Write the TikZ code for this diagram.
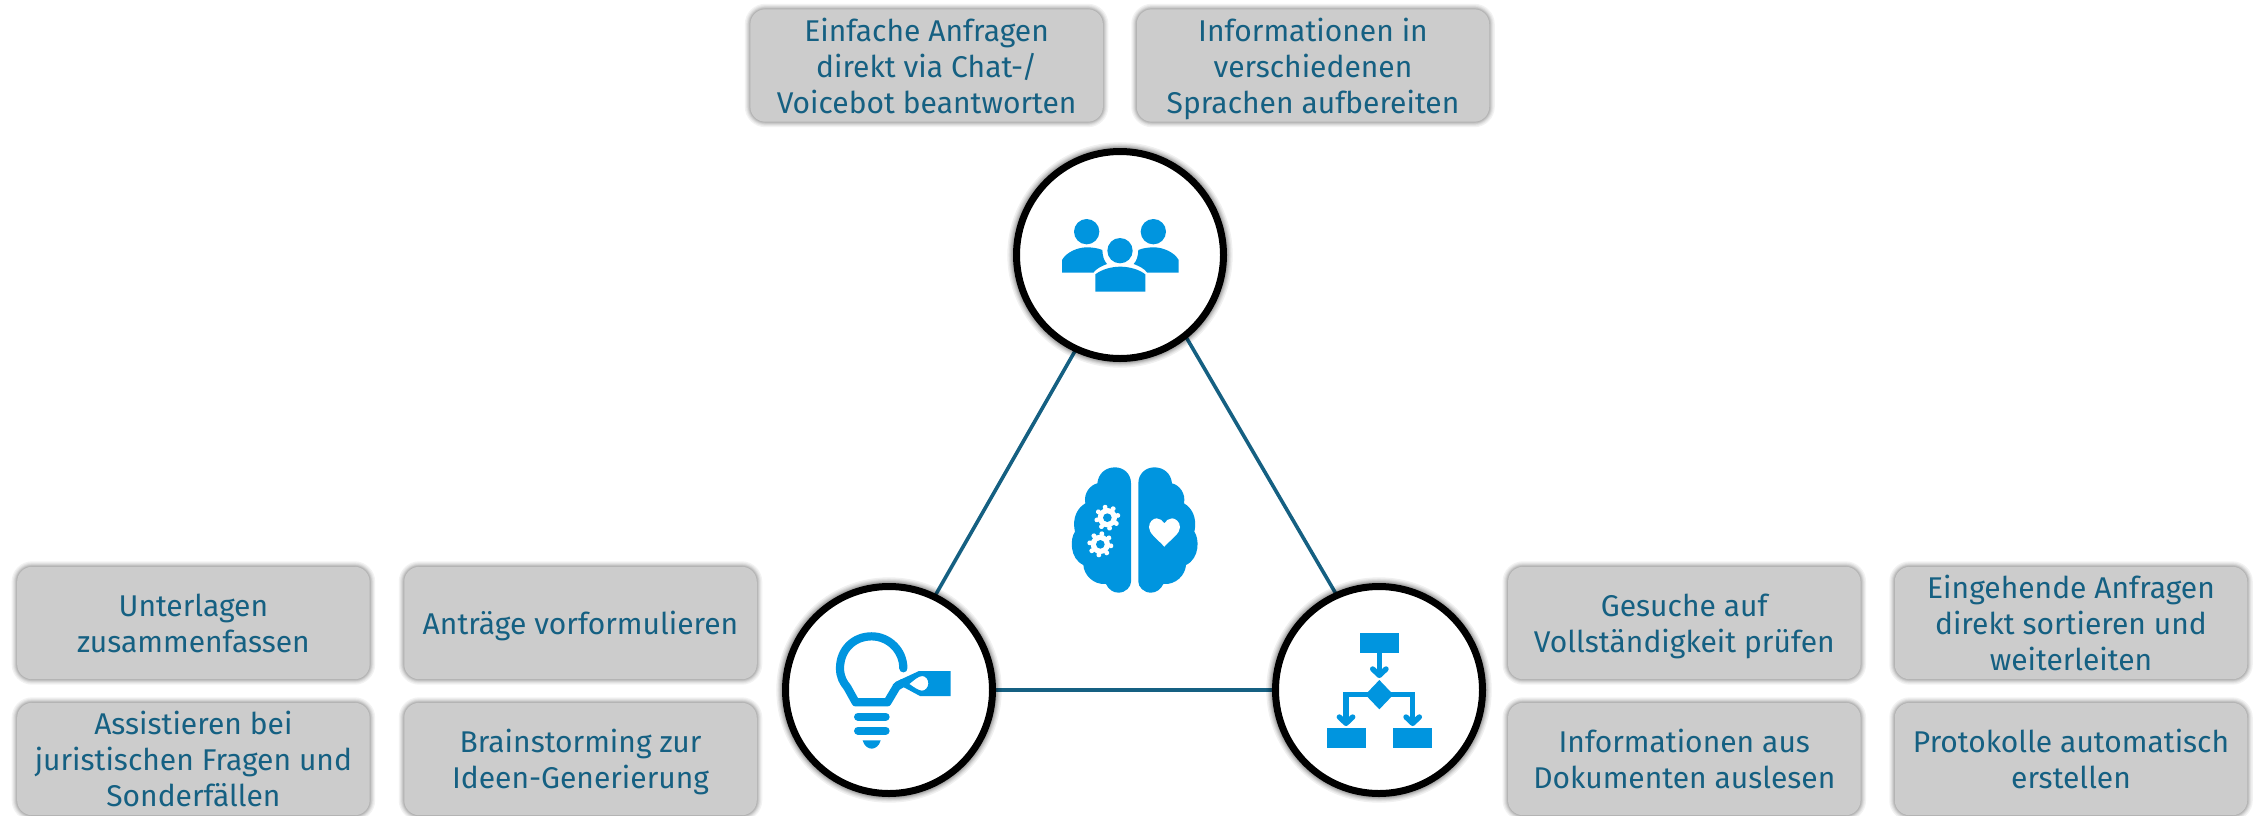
\documentclass[tikz,border=0pt]{standalone}
\usepackage{fontspec}
\setmainfont{Fira Sans}
\usetikzlibrary{calc}
\definecolor{tealtxt}{HTML}{156082}
\definecolor{iconblue}{HTML}{0095DF}
\definecolor{boxgray}{HTML}{CCCCCC}
\pgfdeclarelayer{back}
\pgfsetlayers{back,main}
\newcommand\tline[1]{\smash{#1}\rule{0pt}{11.6pt}}
\tikzset{
  x=0.5pt,y=-0.5pt,
  tbox/.style={rectangle,rounded corners=7.5pt,fill=boxgray,text=tealtxt,align=center,
    minimum width=176.25pt,minimum height=56.2pt,inner sep=0pt,outer sep=0pt,
    font=\fontsize{15}{18}\selectfont},
  ring/.style={circle,draw=black,line width=3.5pt,fill=white,minimum size=103.5pt,inner sep=0pt,outer sep=0pt},
  link/.style={draw=tealtxt,line width=1.8pt},
  ico/.style={fill=iconblue,draw=none},
}
\begin{document}
\begin{tikzpicture}
\useasboundingbox (0,0) rectangle (2259,815);
% boxes
\node[tbox] (t1) at (926.6,65.5) {\tline{Einfache Anfragen}\\\tline{direkt via Chat-/}\\\tline{Voicebot beantworten}};
\node[tbox] (t2) at (1313,65.5) {\tline{Informationen in}\\\tline{verschiedenen}\\\tline{Sprachen aufbereiten}};
\node[tbox] (l1) at (193.4,623) {\tline{Unterlagen}\\\tline{zusammenfassen}};
\node[tbox] (l2) at (580.5,623) {\tline{Anträge vorformulieren}};
\node[tbox] (l3) at (193.4,759) {\tline{Assistieren bei}\\\tline{juristischen Fragen und}\\\tline{Sonderfällen}};
\node[tbox] (l4) at (580.5,759) {\tline{Brainstorming zur}\\\tline{Ideen-Generierung}};
\node[tbox] (r1) at (1684.3,623) {\tline{Gesuche auf}\\\tline{Vollständigkeit prüfen}};
\node[tbox] (r2) at (2071,623) {\tline{Eingehende Anfragen}\\\tline{direkt sortieren und}\\\tline{weiterleiten}};
\node[tbox] (r3) at (1684.3,759) {\tline{Informationen aus}\\\tline{Dokumenten auslesen}};
\node[tbox] (r4) at (2071,759) {\tline{Protokolle automatisch}\\\tline{erstellen}};
% circles
\node[ring] (top) at (1120,255) {};
\node[ring] (lft) at (889,690) {};
\node[ring] (rgt) at (1379,690) {};
\begin{pgfonlayer}{back}
  \foreach \n in {t1,t2,l1,l2,l3,l4,r1,r2,r3,r4}{
    \foreach \w in {0.6,1.2,1.8,2.4,3.2,4.2,5.5}{
      \draw[black,opacity=.05,line width=\w pt,rounded corners=7.5pt]
        (\n.south west) rectangle (\n.north east);
    }
  }
  \draw[link] (top.245) -- (lft.64);
  \draw[link] (top.-51) -- (rgt.114);
  \draw[link] (lft.east) -- (rgt.west);
  \foreach \n in {top,lft,rgt}{
    \foreach \w in {4.2,4.8,5.4,6,6.8,7.8,9.2}{
      \draw[black,opacity=.06,line width=\w pt] (\n) circle (51.75pt);
    }
  }
\end{pgfonlayer}
% people icon
\begin{scope}[shift={(980,130)},scale=1/3]
  \fill[ico] (320,305) circle (38);
  \fill[ico] (520,305) circle (38);
  \fill[ico] (420,362) circle (38);
  \fill[ico] (246,428) -- (246,390) .. controls (260,365) and (295,352) .. (320,352)
    .. controls (340,352) and (355,355) .. (367,360) .. controls (368,380) and (372,392) .. (381,402)
    .. controls (365,408) and (350,415) .. (340,428) -- cycle;
  \fill[ico] (596,428) -- (596,390) .. controls (582,365) and (547,352) .. (522,352)
    .. controls (502,352) and (487,355) .. (475,360) .. controls (474,380) and (470,392) .. (461,402)
    .. controls (477,408) and (492,415) .. (502,428) -- cycle;
  \fill[ico] (346,485) -- (346,433) .. controls (365,418) and (395,410) .. (421,410)
    .. controls (447,410) and (477,418) .. (496,433) -- (496,485) -- cycle;
\end{scope}
% brain icon
\begin{scope}[shift={(1040,450)},scale=1/3]
  \fill[ico] (273,100) .. controls (273,70) and (250,52) .. (225,52)
    .. controls (197,52) and (175,70) .. (172,100)
    .. controls (150,105) and (130,130) .. (136,160)
    .. controls (115,172) and (95,200) .. (105,245)
    .. controls (90,265) and (88,325) .. (130,345)
    .. controls (132,375) and (160,405) .. (198,402)
    .. controls (205,418) and (220,428) .. (235,428)
    .. controls (258,428) and (273,410) .. (273,395) -- cycle;
  \fill[ico] (295,100) .. controls (295,70) and (318,52) .. (343,52)
    .. controls (371,52) and (393,70) .. (396,100)
    .. controls (418,105) and (438,130) .. (432,160)
    .. controls (453,172) and (473,200) .. (463,245)
    .. controls (478,265) and (480,325) .. (438,345)
    .. controls (436,375) and (408,405) .. (370,402)
    .. controls (363,418) and (348,428) .. (333,428)
    .. controls (310,428) and (295,410) .. (295,395) -- cycle;
  \foreach \cx/\cy/\a in {202/203/12,181/283/-8}{
    \begin{scope}[shift={(\cx,\cy)}]
      \fill[white] (0,0) circle (29);
      \foreach \r in {0,45,...,315}{
        \fill[white,rotate=\r+\a,rounded corners=1pt] (-7,-25) rectangle (7,-39);
      }
      \fill[iconblue] (0,0) circle (13);
    \end{scope}
  }
  \fill[white] (373,290) .. controls (350,265) and (327,250) .. (327,232)
    .. controls (327,215) and (340,205) .. (350,205) .. controls (360,205) and (368,212) .. (373,220)
    .. controls (378,212) and (386,205) .. (396,205) .. controls (406,205) and (420,215) .. (420,232)
    .. controls (420,250) and (396,265) .. (373,290) -- cycle;
\end{scope}
% bulb icon
\begin{scope}[shift={(770,570)},scale=1/3]
  \draw[iconblue,line width=4.1pt,line cap=round,line join=round]
    (400,295) .. controls (400,240) and (355,199) .. (305,199)
    .. controls (250,199) and (210,240) .. (210,295)
    .. controls (210,320) and (220,338) .. (232,352);
  \draw[iconblue,line width=4.1pt,line join=round]
    (232,352) -- (257,397) -- (352,397) -- (380,350) -- (400,338);
  \fill[ico,even odd rule] (447,303) -- (542,303) -- (542,378) -- (450,378) -- (398,350) -- (385,352) -- (368,345) -- (378,335) -- cycle
    (418,342) .. controls (430,332) and (445,318) .. (457,318) .. controls (468,318) and (475,330) .. (475,340)
    .. controls (475,352) and (466,362) .. (456,362) .. controls (445,362) and (430,350) .. (418,342) -- cycle;
  \draw[iconblue,line width=4pt,line cap=round] (264,440) -- (347,440);
  \draw[iconblue,line width=4pt,line cap=round] (264,482) -- (347,482);
  \fill[ico] (278,511) -- (332,511) .. controls (328,528) and (315,536) .. (305,536)
    .. controls (295,536) and (282,528) .. (278,511) -- cycle;
\end{scope}
% flow icon
\begin{scope}[shift={(1260,570)},scale=1/3]
  \fill[ico] (300,190) rectangle (416,248);
  \fill[ico] (201,475) rectangle (317,533);
  \fill[ico] (399,475) rectangle (515,533);
  \fill[ico] (358,330) -- (400,374) -- (358,418) -- (316,374) -- cycle;
  \draw[iconblue,line width=2.7pt] (358,248) -- (358,312);
  \draw[iconblue,line width=2.7pt] (458,460) -- (458,374) -- (258,374) -- (258,460);
  \draw[iconblue,line width=2.7pt,line cap=round,line join=round] (338,297) -- (358,316) -- (378,297);
  \draw[iconblue,line width=2.7pt,line cap=round,line join=round] (238,441) -- (258,460) -- (278,441);
  \draw[iconblue,line width=2.7pt,line cap=round,line join=round] (438,441) -- (458,460) -- (478,441);
\end{scope}
\end{tikzpicture}
\end{document}
